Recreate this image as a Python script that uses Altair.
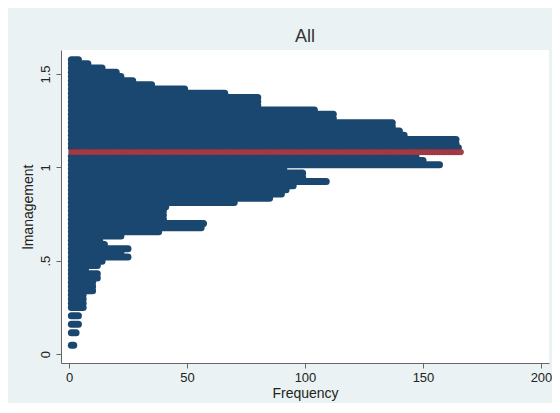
import altair as alt
import pandas as pd

# bin centres (lmanagement) and frequency of each bin
bin_values = [1.577, 1.5545, 1.532, 1.5095, 1.487, 1.4645, 1.442, 1.4195, 1.397, 1.3745,
              1.352, 1.3295, 1.307, 1.2845, 1.262, 1.2395, 1.217, 1.1945, 1.172, 1.1495,
              1.127, 1.1045, 1.0595, 1.037, 1.0145, 0.992, 0.9695, 0.947, 0.9245, 0.902,
              0.8795, 0.857, 0.8345, 0.812, 0.7895, 0.767, 0.7445, 0.722, 0.6995, 0.677,
              0.6545, 0.632, 0.6095, 0.587, 0.5645, 0.542, 0.5195, 0.497, 0.4745, 0.452,
              0.4295, 0.407, 0.3845, 0.362, 0.3395, 0.317, 0.2945, 0.272, 0.2495,
              0.2045, 0.1595, 0.1145, 0.047]
counts = [4, 8, 14, 20, 22, 27, 35, 49, 66, 80,
          80, 80, 104, 112, 112, 137, 137, 140, 142, 164,
          164, 165, 147, 150, 157, 91, 99, 99, 109, 95,
          92, 90, 85, 70, 41, 40, 40, 40, 57, 56,
          38, 22, 13, 15, 25, 22, 25, 14, 12, 7,
          12, 12, 10, 10, 10, 6, 6, 6, 6,
          4, 4, 3, 2]

# highlighted (red) bin
red_value = 1.082
red_count = 166

x_ticks = [0, 50, 100, 150, 200]
y_ticks = [0, 0.5, 1, 1.5]

rows = pd.DataFrame({"lmanagement": bin_values, "Frequency": counts})
red = pd.DataFrame({"lmanagement": [red_value] * red_count,
                    "Frequency": list(range(1, red_count + 1))})

FONT = "Liberation Sans"
xscale = alt.Scale(domain=[-3.39, 203.4], nice=False, zero=False)
yscale = alt.Scale(domain=[-0.048, 1.6286], nice=False, zero=False)

xaxis = alt.Axis(values=x_ticks, title="Frequency", grid=False, tickSize=5,
                 labelPadding=3, titlePadding=2, labelFontSize=13, titleFontSize=14)
yaxis = alt.Axis(values=y_ticks, title="lmanagement", grid=False, tickSize=5,
                 labelAngle=270, labelAlign="center", labelBaseline="bottom",
                 labelPadding=4, titlePadding=4, labelFontSize=13, titleFontSize=14,
                 labelExpr="datum.value == 0 ? '0' : datum.value == 0.5 ? '.5' : datum.value == 1 ? '1' : '1.5'")

blue_rows = alt.Chart(rows).transform_calculate(start="1").mark_rule(
    color="#1A476F", strokeWidth=7, strokeCap="round"
).encode(
    x=alt.X("start:Q", scale=xscale, axis=xaxis),
    x2="Frequency:Q",
    y=alt.Y("lmanagement:Q", scale=yscale, axis=yaxis),
)

red_dots = alt.Chart(red).mark_circle(
    size=34, color="#A53E48", opacity=1, stroke="#8A2C36", strokeWidth=0.4
).encode(
    x=alt.X("Frequency:Q", scale=xscale, axis=xaxis),
    y=alt.Y("lmanagement:Q", scale=yscale, axis=yaxis),
)

chart = alt.layer(blue_rows, red_dots).properties(
    width=488, height=313,
    title=alt.TitleParams("All", fontSize=18, font=FONT, fontWeight="normal",
                          color="#333333", anchor="middle", frame="group", offset=4),
    autosize=alt.AutoSizeParams(type="none"),
    padding={"left": 53, "top": 42, "right": 3, "bottom": 40},
    background="#EAF2F3",
).configure_view(
    fill="white", strokeWidth=0
).configure_axis(
    labelFont=FONT, titleFont=FONT, labelColor="#222222", titleColor="#222222",
    domainColor="#666666", tickColor="#666666", titleFontWeight="normal"
)

chart.save("out.html", embed_options={"renderer": "svg", "actions": False})
